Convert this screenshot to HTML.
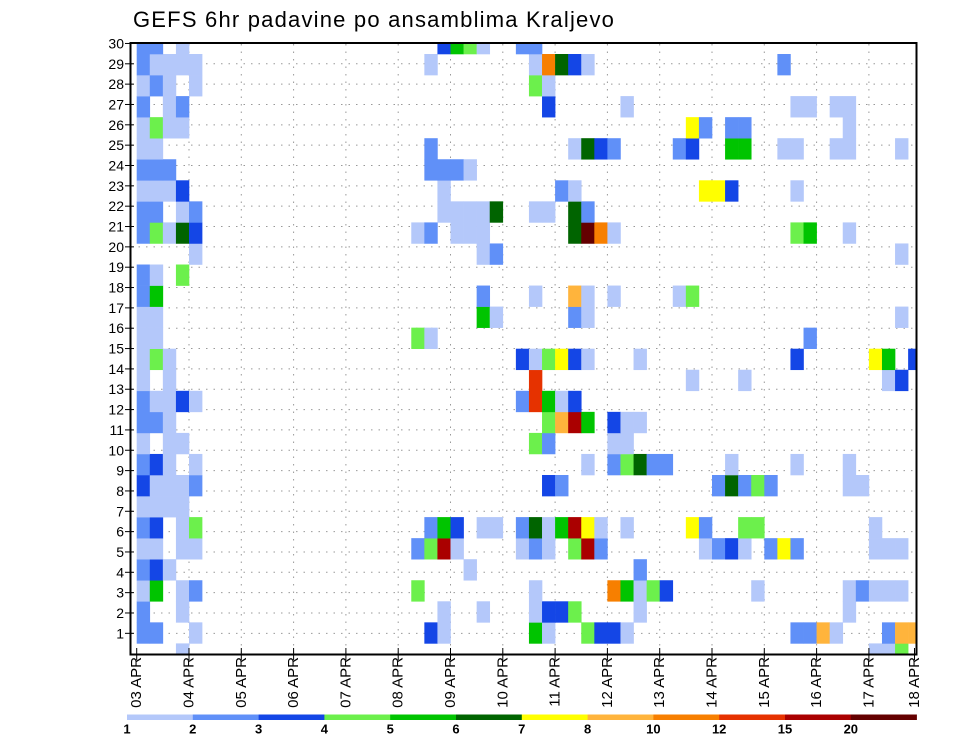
<!DOCTYPE html>
<html><head><meta charset="utf-8"><style>
html,body{margin:0;padding:0;background:#fff;}
svg{display:block;font-family:"Liberation Sans",sans-serif;}
</style></head><body>
<svg id="chart" width="960" height="742" viewBox="0 0 960 742" xmlns="http://www.w3.org/2000/svg">
<defs><clipPath id="plotClip"><rect x="130.5" y="43" width="786" height="611.5"/></clipPath></defs>
<text x="133" y="27" font-size="22" letter-spacing="1.2" fill="#000">GEFS 6hr padavine po ansamblima Kraljevo</text>
<g id="grid"></g>
<g id="cells" clip-path="url(#plotClip)"></g>
<rect x="130.5" y="43" width="786" height="611.5" fill="none" stroke="#000" stroke-width="2"/>
<g id="yaxis"></g>
<g id="xaxis"></g>
<g id="colorbar"></g>
</svg>
<script>
// ---- data ----
const dayLabels = ["03 APR","04 APR","05 APR","06 APR","07 APR","08 APR","09 APR","10 APR","11 APR","12 APR","13 APR","14 APR","15 APR","16 APR","17 APR","18 APR"];
const memberLabels = [1,2,3,4,5,6,7,8,9,10,11,12,13,14,15,16,17,18,19,20,21,22,23,24,25,26,27,28,29,30];
const levelThresholds = [1,2,3,4,5,6,7,8,10,12,15,20];
const levelColors = ["#b4c8fa","#6090f8","#1446e6","#6cf04c","#00c400","#006400","#ffff00","#ffb43c","#f77f00","#e63200","#aa0000","#640000"];
const codeLetters = "abcdefghijkl";
const codeValues = [1.5,2.5,3.5,4.5,5.5,6.5,7.5,9,11,13.5,17.5,25];
// member -> "timestep+code" entries (6-hourly steps from 03 APR 00Z)
const ensembleRows = {
30:"0b 1b 3a 23c 24e 25d 26a 29b 30b",
29:"0b 1a 2a 3a 4a 22a 30a 31i 32f 33c 34a 49b",
28:"0a 1b 2a 4a 30d 31a",
27:"0b 2a 3b 31c 37a 50a 51a 53a 54a",
26:"0a 1d 2a 3a 42g 43b 45b 46b 54a",
25:"0a 1a 22b 33a 34f 35c 36b 41b 42c 45e 46e 49a 50a 53a 54a 58a",
24:"0b 1b 2b 22b 23b 24b 25a",
23:"0a 1a 2a 3c 23a 32b 33a 43g 44g 45c 50a",
22:"0b 1b 3a 4b 23a 24a 25a 26a 27f 30a 31a 33f 34b",
21:"0b 1d 2a 3f 4c 21a 22b 24a 25a 26a 33f 34l 35i 36a 50d 51e 54a",
20:"4a 26a 27b 58a",
19:"0b 1a 3d",
18:"0b 1e 26b 30a 33h 34a 36a 41a 42d",
17:"0a 1a 26e 27a 33b 34a 58a",
16:"0a 1a 21d 22a 51b",
15:"0a 1d 2a 29c 30a 31d 32g 33c 34a 38a 50c 56g 57e 59c",
14:"0a 2a 30j 42a 46a 57a 58c",
13:"0b 1a 2a 3c 4a 29b 30j 31e 32a 33c",
12:"0b 1b 2a 31d 32h 33k 34e 36c 37a 38a",
11:"0a 2a 3a 30d 31b 36a 37a",
10:"0b 1c 2a 4a 34a 36b 37d 38f 39b 40b 45a 50a 54a",
9:"0c 1a 2a 3a 4b 31c 32b 44b 45f 46b 47d 48b 54a 55a",
8:"0a 1a 2a 3a",
7:"0b 1c 3a 4d 22b 23e 24c 26a 27a 29b 30f 31a 32e 33k 34g 35a 37a 42g 43b 46d 47d 56a",
6:"0a 1a 3a 4a 21b 22d 23k 24a 29a 30b 31a 33d 34k 35b 43a 44b 45c 46a 48b 49g 50b 56a 57a 58a",
5:"0b 1c 2a 25a 38b",
4:"0a 1e 3a 4b 21d 30a 36i 37e 38a 39d 40c 47a 54a 55b 56a 57a 58a",
3:"0b 3a 23a 26a 30a 31c 32c 33d 38a 54a",
2:"0b 1b 4a 22c 23a 30e 31a 34d 35c 36c 37a 50b 51b 52h 53a 57b 58h 59h",
1:"3a 56a 57a 58d"
};
const cellMember = [];
const cellStep = [];
const cellValue = [];
for (const m of memberLabels) {
  const s = ensembleRows[m];
  if (!s) continue;
  for (const tok of s.trim().split(/\s+/)) {
    cellMember.push(m);
    cellStep.push(parseInt(tok, 10));
    cellValue.push(codeValues[codeLetters.indexOf(tok.slice(-1))]);
  }
}
// ---- scales ----
const NS = "http://www.w3.org/2000/svg";
const x0 = 136.7, dayW = 52.3, stepW = dayW / 4;
const xStep = k => x0 + k * stepW;
const xDay = d => x0 + d * dayW;
const bandTop = m => 54 + (29 - m) * 21.05;
const bandH = 21.05;
const yTick = m => 63.8 + (29 - m) * 20.34;
function colorFor(v){ let idx=-1; for(let i=0;i<levelThresholds.length;i++){ if(v>=levelThresholds[i]) idx=i; } return idx<0?null:levelColors[idx]; }
function mk(tag, attrs, parent){ const e=document.createElementNS(NS,tag); for(const k in attrs) e.setAttribute(k,attrs[k]); parent.appendChild(e); return e; }

// grid
const grid = document.getElementById("grid");
for (let m of memberLabels) {
  const y = yTick(m);
  const l = mk("line",{x1:131,x2:916,y1:y,y2:y,stroke:"#999","stroke-width":1,"stroke-dasharray":"1.5 6"},grid);
  
  
}
for (let d = 1; d < dayLabels.length - 1; d++) {
  const x = xDay(d);
  const l = mk("line",{x1:x,x2:x,y1:44,y2:654,stroke:"#999","stroke-width":1,"stroke-dasharray":"1.5 6"},grid);
  
  
}
// cells
const cells = document.getElementById("cells");
for (let i = 0; i < cellValue.length; i++) {
  const c = colorFor(cellValue[i]);
  if (!c) continue;
  const r = mk("rect",{x:xStep(cellStep[i]),y:bandTop(cellMember[i]),width:stepW+0.3,height:bandH+0.3,fill:c},cells);
  
  
}
// y axis
const yaxis = document.getElementById("yaxis");
for (let m of memberLabels) {
  const y = yTick(m);
  const t = mk("line",{x1:125,x2:134,y1:y,y2:y,stroke:"#000","stroke-width":1},yaxis);
  
  
  const tx = mk("text",{x:124,y:y,"font-size":14,"text-anchor":"end","dominant-baseline":"central",fill:"#000"},yaxis);
  tx.textContent = String(m);
  
  
}
// x axis
const xaxis = document.getElementById("xaxis");
for (let d = 0; d < dayLabels.length; d++) {
  let x = xDay(d);
  if (x > 915) x = 914.5;
  const t = mk("line",{x1:x,x2:x,y1:648,y2:660,stroke:"#000","stroke-width":1},xaxis);
  
  
  const tx = mk("text",{x:0,y:0,"font-size":15,"text-anchor":"end","dominant-baseline":"central",fill:"#000",transform:"translate("+x+",657) rotate(-90)"},xaxis);
  tx.textContent = dayLabels[d];
  
  
}
// colorbar
const cb = document.getElementById("colorbar");
const cbx = 127, cbw = 65.8;
for (let i = 0; i < levelColors.length; i++) {
  const r = mk("rect",{x:cbx+i*cbw,y:714.5,width:cbw+0.3,height:5.5,fill:levelColors[i]},cb);
  
  
  const t = mk("text",{x:cbx+i*cbw,y:729,"font-size":13,"font-weight":"bold","text-anchor":"middle","dominant-baseline":"central",fill:"#000"},cb);
  t.textContent = String(levelThresholds[i]);
  
  
}
</script>
</body></html>
